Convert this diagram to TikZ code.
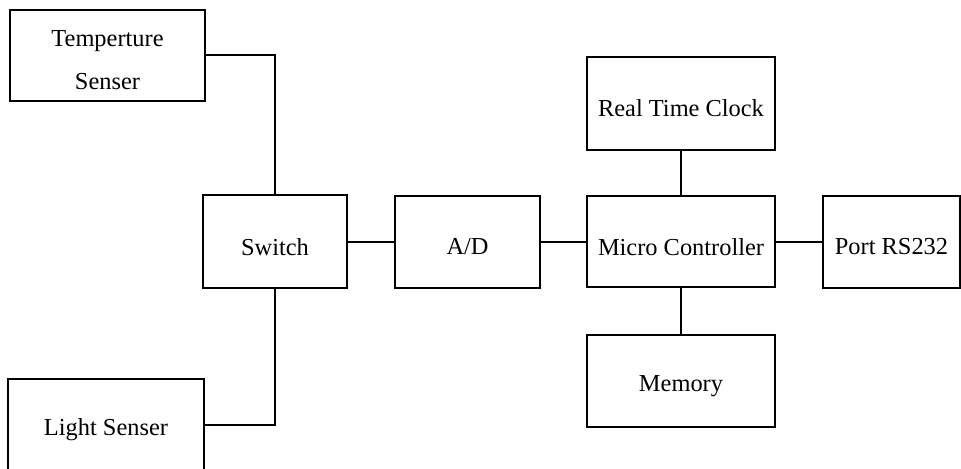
\documentclass[tikz,border=0pt]{standalone}
\usepackage{fontspec}
\setmainfont{Liberation Serif}
\begin{document}
\begin{tikzpicture}[x=0.5pt,y=-0.5pt,
  box/.style={draw, line width=1pt, rectangle, inner sep=0pt},
  txt/.style={font=\fontsize{12.2}{21.5}\selectfont, align=center, inner sep=0pt, yshift=-2.5pt},
  wire/.style={line width=1pt}]
\useasboundingbox (0,0) rectangle (961,469);
\clip (0,0) rectangle (961,469);
\node[box, minimum width=97.5pt, minimum height=45.5pt, label={[txt]center:Temperture\\Senser}] (T) at (107.5,55.5) {};
\node[box, minimum width=72pt, minimum height=46.5pt, label={[txt]center:Switch}] (S) at (275,242) {};
\node[box, minimum width=72.5pt, minimum height=46pt, label={[txt]center:A/D}] (AD) at (467.5,242) {};
\node[box, minimum width=94pt, minimum height=45.5pt, label={[txt]center:Micro Controller}] (MC) at (681,242) {};
\node[box, minimum width=94pt, minimum height=46.5pt, label={[txt]center:Real Time Clock}] (RTC) at (681,103.5) {};
\node[box, minimum width=68.5pt, minimum height=46pt, label={[txt]center:Port RS232}] (P) at (891.5,242) {};
\node[box, minimum width=94pt, minimum height=46pt, label={[txt]center:Memory}] (M) at (681,381) {};
\node[box, minimum width=98pt, minimum height=46pt, label={[txt]center:Light Senser}] (L) at (106,425) {};
\draw[wire] (T.east) -| (S.north);
\draw[wire] (L.east) -| (S.south);
\draw[wire] (S.east) -- (AD.west);
\draw[wire] (AD.east) -- (MC.west);
\draw[wire] (MC.east) -- (P.west);
\draw[wire] (RTC.south) -- (MC.north);
\draw[wire] (MC.south) -- (M.north);
\end{tikzpicture}
\end{document}
